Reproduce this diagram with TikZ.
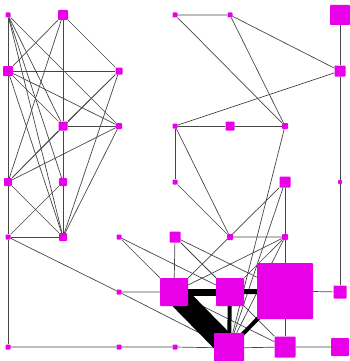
\documentclass[tikz,border=0pt]{standalone}
\usepackage{tikz}
\usetikzlibrary{backgrounds}
\definecolor{vmag}{RGB}{232,0,232}
\definecolor{edgegray}{RGB}{70,70,70}

\begin{document}
\begin{tikzpicture}[
    x=1pt, y=-1pt,
    vtx/.style   = {fill=vmag, rounded corners=0.8pt, inner sep=0pt, minimum size=#1},
    vtx/.default = 5pt,
    ed/.style    = {draw=edgegray, line width=0.7pt},
    heavy/.style = {draw=black, line width=#1},
]
\useasboundingbox (0,0) rectangle (350,361);

% ---------------- row 1 ----------------
\node[vtx]       (a) at (8,15) {};
\node[vtx=10pt]  (b) at (63,15) {};
\node[vtx]       (r1c4) at (175,15) {};
\node[vtx]       (r1c5) at (230,15) {};
\node[vtx=20pt]  (r1c7) at (340,15) {};

% ---------------- row 2 ----------------
\node[vtx=10pt]  (c) at (8,71) {};
\node[vtx=7pt]   (d) at (119,71) {};
\node[vtx=11pt]  (r2c7) at (340,71) {};

% ---------------- row 3 ----------------
\node[vtx=9pt]   (e) at (63,126) {};
\node[vtx=6pt]   (f) at (119,126) {};
\node[vtx]       (k) at (175,126) {};
\node[vtx=9pt]   (l) at (230,126) {};
\node[vtx=6pt]   (m) at (285,126) {};

% ---------------- row 4 ----------------
\node[vtx=8pt]   (g) at (8,182) {};
\node[vtx=8pt]   (h) at (63,182) {};
\node[vtx]       (n) at (175,182) {};
\node[vtx=11pt]  (o) at (285,182) {};
\node[vtx=4pt]   (p) at (340,182) {};

% ---------------- row 5 ----------------
\node[vtx]       (i) at (8,237) {};
\node[vtx=8pt]   (j) at (63,237) {};
\node[vtx]       (q) at (119,237) {};
\node[vtx=11pt]  (r) at (175,237) {};
\node[vtx=6pt]   (s) at (230,237) {};
\node[vtx=6pt]   (t) at (285,237) {};

% ---------------- row 6 ----------------
\node[vtx]       (u) at (119,292) {};
\node[vtx=28pt]  (v) at (174,292) {};
\node[vtx=28pt]  (w) at (230,292) {};
\node[vtx=56pt]  (x) at (285,291) {};
\node[vtx=13pt]  (y) at (340,292) {};

% ---------------- row 7 ----------------
\node[vtx]       (z1) at (8,347) {};
\node[vtx]       (z3) at (119,347) {};
\node[vtx]       (z4) at (175,347) {};
\node[vtx=30pt]  (z5) at (229,348) {};
\node[vtx=21pt]  (z6) at (285,347) {};
\node[vtx=18pt]  (z7) at (340,347) {};

\begin{scope}[on background layer]
    % left block
    \draw[ed] (a) -- (c) -- (g) -- (i) -- (z1);
    \draw[ed] (b) -- (e) -- (h) -- (j);
    \draw[ed] (a) -- (e);  \draw[ed] (a) -- (h);  \draw[ed] (a) -- (j);  \draw[ed] (a) -- (f);
    \draw[ed] (b) -- (c);  \draw[ed] (b) -- (d);  \draw[ed] (b) -- (g);
    \draw[ed] (c) -- (d);  \draw[ed] (c) -- (e);  \draw[ed] (c) -- (f);  \draw[ed] (c) -- (j);
    \draw[ed] (d) -- (e);  \draw[ed] (d) -- (g);  \draw[ed] (d) -- (j);
    \draw[ed] (e) -- (f);  \draw[ed] (e) -- (g);
    \draw[ed] (f) -- (g);  \draw[ed] (f) -- (j);
    \draw[ed] (g) -- (j);  \draw[ed] (h) -- (i);  \draw[ed] (i) -- (j);

    % right block, top
    \draw[ed] (r1c4) -- (r1c5) -- (r2c7);
    \draw[ed] (r1c4) -- (m);  \draw[ed] (r1c5) -- (m);
    \draw[ed] (r1c7) -- (r2c7) -- (p) -- (y);
    \draw[ed] (r2c7) -- (k);
    \draw[ed] (k) -- (l) -- (m);
    \draw[ed] (k) -- (n);  \draw[ed] (k) -- (s);

    % middle
    \draw[ed] (n) -- (s) -- (t);
    \draw[ed] (o) -- (v.center);
    \draw[ed] (o) -- (t) -- (x) -- (z6);
    \draw[ed] (x) -- (y);
    \draw[ed] (o) -- (z5);  \draw[ed] (m) -- (z5);
    \draw[ed] (r) -- (v);  \draw[ed] (r) -- (w);  \draw[ed] (r) -- (x);  \draw[ed] (r) -- (z6);
    \draw[ed] (q) -- (v);  \draw[ed] (q) -- (w);
    \draw[ed] (t) -- (v);  \draw[ed] (t) -- (w);  \draw[ed] (t) -- (z5);
    \draw[ed] (v) -- (z6);
    \draw[ed] (i) -- (u) -- (v);  \draw[ed] (u) -- (z5);

    % bottom line
    \draw[ed] (z1) -- (z3) -- (z4) -- (z5) -- (z6) -- (z7);

    % heavy edges
    \draw[heavy=22pt] (v.center) -- (z5.center);
    \draw[heavy=7pt]  (v.center) -- (w.center);
    \draw[heavy=5pt]  (w.center) -- (x.center);
    \draw[heavy=4pt]  (w.center) -- (z5.center);
    \draw[heavy=4pt]  (x.center) -- (z5.center);
\end{scope}
\end{tikzpicture}
\end{document}
